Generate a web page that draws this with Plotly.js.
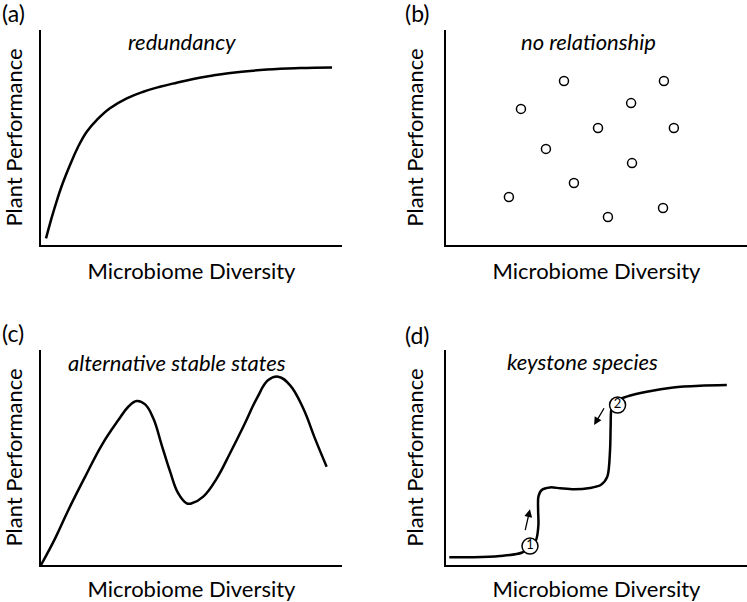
<!DOCTYPE html>
<html>
<head>
<meta charset="utf-8">
<script src="https://cdn.plot.ly/plotly-3.0.1.min.js"></script>
<style>
  body { margin: 0; background: #fff; }
  #chart { width: 747px; height: 602px; }
</style>
</head>
<body>
<div id="chart"></div>
<script>
// (a) redundancy curve
var redundancyX = [1.66, 3.32, 4.98, 7.21, 9.63, 12.3, 15.2, 18.5, 22.9, 28.5, 34.0, 39.5, 45.1, 50.6, 56.1, 62.2, 75.1, 86.0, 96.7];
var redundancyY = [3.1, 11.6, 19.4, 28.7, 37.2, 45.6, 52.7, 58.1, 63.6, 68.2, 71.3, 73.6, 75.5, 77.2, 78.6, 79.9, 81.6, 82.3, 82.6];

// (b) no relationship scatter
var noRelX = [20.9, 24.9, 33.2, 39.2, 42.5, 50.5, 53.8, 61.5, 61.8, 72.1, 72.4, 75.7];
var noRelY = [22.3, 63.3, 44.7, 76.3, 28.8, 54.4, 13.0, 66.0, 38.1, 17.2, 76.3, 54.4];

// (c) alternative stable states
var altX = [0, 4.7, 9.1, 14.6, 20.2, 25.7, 29.0, 31.8, 34.6, 37.3, 40.1, 42.9, 45.6, 48.4, 50.1, 53.9, 58.4, 62.8, 67.2, 71.7, 75.5, 78.8, 82.7, 87.1, 91.0, 94.9];
var altY = [0, 12.4, 25.6, 40.9, 55.8, 67.4, 73.6, 76.3, 74.7, 68.2, 55.8, 43.4, 33.3, 28.7, 28.7, 31.8, 40.3, 52.0, 64.3, 77.5, 86.0, 87.6, 83.7, 72.9, 58.9, 45.7];

// (d) keystone species
var keyX = [1.1, 9.1, 17.9, 25.1, 27.9, 29.9, 30.7, 30.6, 30.7, 31.8, 34.6, 37.9, 42.5, 47.8, 51.4, 53.6, 54.5, 54.7, 54.9, 55.8, 60.0, 66.7, 75.5, 84.4, 93.3];
var keyY = [3.6, 3.6, 4.2, 5.7, 8.8, 11.6, 18.6, 25.6, 31.8, 34.9, 36.1, 35.7, 35.2, 35.8, 37.2, 41.1, 53.5, 64.3, 72.1, 75.8, 78.3, 80.6, 82.6, 83.4, 83.7];
var keyMarkX = [27.9, 57.0];
var keyMarkY = [8.8, 74.4];
var keyMarkLabels = ['1', '2'];
var arrowHeadX = [27.9, 49.2];
var arrowHeadY = [25.9, 65.1];
var arrowTailX = [26.2, 52.8];
var arrowTailY = [15.5, 73.6];

var panelLabels = ['(a)', '(b)', '(c)', '(d)'];
var panelTitles = ['redundancy', 'no relationship', 'alternative stable states', 'keystone species'];
var xTitle = 'Microbiome Diversity';
var yTitle = 'Plant Performance';

var lineStyle = {color: 'black', width: 2.5, shape: 'spline', smoothing: 1.2};

var data = [
  {x: redundancyX, y: redundancyY, mode: 'lines', line: lineStyle, xaxis: 'x', yaxis: 'y', hoverinfo: 'skip'},
  {x: noRelX, y: noRelY, mode: 'markers', xaxis: 'x2', yaxis: 'y2', hoverinfo: 'skip',
   marker: {symbol: 'circle-open', size: 9, color: 'black', line: {width: 1.5}}},
  {x: altX, y: altY, mode: 'lines', line: lineStyle, xaxis: 'x3', yaxis: 'y3', hoverinfo: 'skip'},
  {x: keyX, y: keyY, mode: 'lines', line: {color: 'black', width: 2.5, shape: 'spline', smoothing: 0.8}, xaxis: 'x4', yaxis: 'y4', hoverinfo: 'skip'},
  {x: keyMarkX, y: keyMarkY, mode: 'markers+text', text: keyMarkLabels, textposition: 'middle center',
   textfont: {size: 13, color: 'black'}, xaxis: 'x4', yaxis: 'y4', hoverinfo: 'skip', cliponaxis: false,
   marker: {size: 16, color: 'white', line: {color: 'black', width: 1.5}}}
];

function axis(domain, anchor, title, standoff) {
  return {
    domain: domain, anchor: anchor, range: [0, 100],
    showline: true, linecolor: 'black', linewidth: 2,
    showgrid: false, zeroline: false, showticklabels: false, ticks: '',
    title: {text: title, font: {size: 22, color: 'black'}, standoff: standoff}
  };
}

var W = 747, H = 602;
var leftCol = [41 / W, 342 / W];
var rightCol = [446 / W, 1];
var topRow = [1 - 245 / H, 1 - 30 / H];
var botRow = [1 - 565 / H, 1 - 350 / H];

var annotations = [];
var labelPos = [[0, 13], [403, 13], [0, 333], [403, 335]];
var titlePos = [[182, 41], [588, 41], [177, 362], [582, 361]];
for (var i = 0; i < 4; i++) {
  annotations.push({xref: 'paper', yref: 'paper', x: labelPos[i][0] / W, y: 1 - labelPos[i][1] / H,
    xanchor: 'left', yanchor: 'middle', text: panelLabels[i], showarrow: false,
    font: {size: 23, color: 'black'}});
  annotations.push({xref: 'paper', yref: 'paper', x: titlePos[i][0] / W, y: 1 - titlePos[i][1] / H,
    xanchor: 'center', yanchor: 'middle', text: '<i>' + panelTitles[i] + '</i>', showarrow: false,
    font: {size: 22, color: 'black'}});
}
for (var j = 0; j < arrowHeadX.length; j++) {
  annotations.push({xref: 'x4', yref: 'y4', axref: 'x4', ayref: 'y4',
    x: arrowHeadX[j], y: arrowHeadY[j], ax: arrowTailX[j], ay: arrowTailY[j],
    text: '', showarrow: true, arrowhead: 2, arrowsize: 1.2, arrowwidth: 1.3, arrowcolor: 'black'});
}

var layout = {
  width: W, height: H,
  margin: {l: 0, r: 0, t: 0, b: 0},
  paper_bgcolor: 'white', plot_bgcolor: 'white',
  showlegend: false,
  font: {family: 'Lato, sans-serif', color: 'black'},
  xaxis: axis(leftCol, 'y', xTitle, 18),
  yaxis: axis(topRow, 'x', yTitle, 14),
  xaxis2: axis(rightCol, 'y2', xTitle, 18),
  yaxis2: axis(topRow, 'x2', yTitle, 14),
  xaxis3: axis(leftCol, 'y3', xTitle, 18),
  yaxis3: axis(botRow, 'x3', yTitle, 14),
  xaxis4: axis(rightCol, 'y4', xTitle, 18),
  yaxis4: axis(botRow, 'x4', yTitle, 14),
  annotations: annotations
};

Plotly.newPlot('chart', data, layout, {displayModeBar: false, staticPlot: true});
</script>
</body>
</html>
